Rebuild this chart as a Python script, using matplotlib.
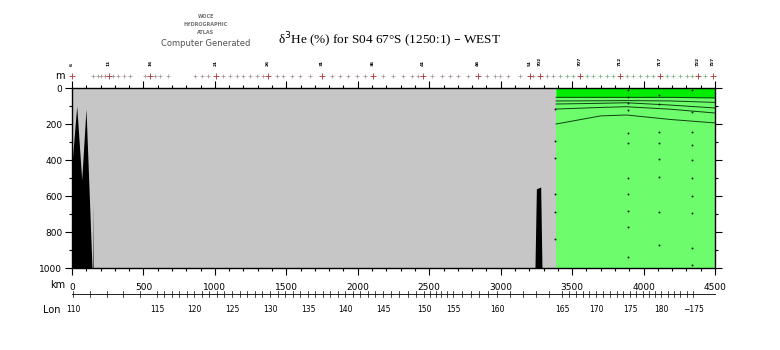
import numpy as np
import matplotlib
matplotlib.use('Agg')
import matplotlib.pyplot as plt
import matplotlib.transforms as mtransforms

# --- Data ---
# bathymetry (km, depth m), filled black below
bathy_km = [0, 33, 68, 98, 140, 146, 148, 150, 3230, 3240, 3250, 3280, 3289, 3300]
bathy_depth = [420, 100, 510, 115, 1000, 1000, 630, 1000, 1000, 1000, 560, 550, 1000, 1000]

# extent of data (green) and no-data (grey) region
data_start_km = 3388
section_end_km = 4500

# top dark-green band and contour lines (km, depth m)
contour_km = [3388, 3700, 3880, 4190, 4500]
band_depth = [52, 52, 52, 52, 55]
contour_lines = [
    [72, 71, 70, 72, 80],
    [89, 85, 82, 95, 111],
    [117, 108, 104, 118, 139],
    [200, 155, 150, 175, 194],
]

# sample dots (km, depth)
dot_km = ([3381] * 6 + [3892] * 11 + [4109] * 8 + [4340] * 10)
dot_depth = ([117, 294, 389, 589, 687, 839] +
             [11, 48, 81, 122, 250, 304, 500, 589, 683, 770, 937] +
             [39, 89, 243, 306, 396, 493, 687, 872] +
             [11, 131, 243, 317, 400, 498, 600, 693, 889, 983])

# station positions (km); major stations carry labels
station_km = [0, 147, 182, 203, 231, 257, 287, 322, 364, 406, 511, 546, 581, 616, 672,
              861, 908, 952, 1008, 1057, 1106, 1153, 1197, 1246, 1293, 1337, 1372,
              1433, 1477, 1538, 1596, 1666, 1748, 1818, 1876, 1932, 1993, 2051, 2107,
              2177, 2247, 2317, 2378, 2422, 2457, 2518, 2588, 2646, 2702, 2772, 2842,
              2903, 2961, 2996, 3052, 3136, 3206, 3227, 3276, 3323, 3367, 3416, 3463,
              3507, 3556, 3603, 3647, 3696, 3743, 3787, 3836, 3883, 3927, 3976, 4023,
              4067, 4116, 4163, 4207, 4256, 4303, 4338, 4382, 4431, 4487]
major_km = [0, 257, 546, 1008, 1372, 1748, 2107, 2457, 2842, 3206, 3276,
            3556, 3836, 4116, 4382, 4487]
major_labels = ['6', '11', '16', '21', '26', '31', '36', '41', '46', '51', '702',
                '707', '712', '717', '722', '727']

# longitude labels and their km positions
lon_km = [7, 595, 854, 1120, 1386, 1652, 1911, 2177, 2464, 2667, 2975, 3430,
          3668, 3906, 4123, 4347]
lon_labels = ['110', '115', '120', '125', '130', '135', '140', '145', '150',
              '155', '160', '165', '170', '175', '180', '\u2212175']
lon_deg = [110, 115, 120, 125, 130, 135, 140, 145, 150, 155, 160, 165, 170, 175, 180, 185]

GREY = '#c6c6c6'
LIGHT_GREEN = '#6cfc6c'
DARK_GREEN = '#00ec00'

plt.rcParams['font.family'] = ['DejaVu Sans']

fig = plt.figure(figsize=(7.8, 3.5), dpi=100)
ax = fig.add_axes([72 / 780, 82 / 350, 643 / 780, 180 / 350])
ax.set_xlim(0, 4500)
ax.set_ylim(1000, 0)

# background fields
ax.axvspan(0, data_start_km, color=GREY, lw=0, zorder=0)
ax.axvspan(data_start_km, section_end_km, color=LIGHT_GREEN, lw=0, zorder=0)
ax.fill_between(contour_km, 0, band_depth, color=DARK_GREEN, lw=0, zorder=1)
ax.plot(contour_km, band_depth, color='#104010', lw=0.7, zorder=2)
for line in contour_lines:
    ax.plot(contour_km, line, color='#104010', lw=0.7, zorder=2)

ax.scatter(dot_km, dot_depth, s=2.0, color='#102010', zorder=3, lw=0)

# bathymetry
ax.fill_between(bathy_km, bathy_depth, 1000, color='black', lw=0, zorder=4)

# axes styling
for sp in ax.spines.values():
    sp.set_linewidth(1.0)
ax.set_xticks(np.arange(0, 4501, 500))
ax.set_xticks(np.arange(0, 4501, 100), minor=True)
ax.set_yticks(np.arange(0, 1001, 200))
ax.set_yticks(np.arange(0, 1001, 100), minor=True)
ax.tick_params(which='both', direction='out', top=True, right=True,
               labelsize=6.5, width=0.8)
ax.tick_params(which='major', length=5, pad=6)
ax.tick_params(which='minor', length=2.5)
ax.tick_params(axis='y', pad=2)

trans = mtransforms.blended_transform_factory(ax.transData, ax.transAxes)

# station markers row
for km in station_km:
    if km in major_km:
        continue
    col = '#7ab07a' if km > data_start_km else '#a09090'
    ax.plot(km, 1.067, marker='+', ms=3, mew=0.5, color=col, transform=trans,
            clip_on=False)
ax.plot(major_km, [1.067] * len(major_km), ls='none', marker='+', ms=5, mew=0.6,
        color='#b03030', transform=trans, clip_on=False)
for km, lab in zip(major_km, major_labels):
    ax.text(km, 1.12, lab, rotation=90, fontsize=3.2, ha='center', va='bottom',
            transform=trans, fontweight='bold')

fig.text(60 / 780, 1 - 76 / 350, 'm', fontsize=7, ha='center', va='center')
fig.text(58 / 780, 1 - 285 / 350, 'km', fontsize=7, ha='center', va='center')

# longitude axis
lon_y = (268 - 294) / 180
ax.plot([0, 4500], [lon_y, lon_y], color='black', lw=0.6, transform=trans, clip_on=False)
deg_ticks = np.arange(110, 186)
deg_km = np.interp(deg_ticks, lon_deg, lon_km)
for k in deg_km:
    ax.plot([k, k], [lon_y - 0.018, lon_y + 0.018], color='black', lw=0.5,
            transform=trans, clip_on=False)
for k, lab in zip(lon_km, lon_labels):
    ax.text(k, (268 - 310) / 180, lab, fontsize=5.5, ha='center', va='center',
            transform=trans)
fig.text(52 / 780, 1 - 310 / 350, 'Lon', fontsize=7, ha='center', va='center')

# titles
fig.text(390 / 780, 1 - 40 / 350, '\u03b4$^3$He (%) for S04 67\u00b0S (1250:1) \u2013 WEST',
         fontsize=9.5, ha='center', va='center', family='Liberation Serif')
fig.text(206 / 780, 1 - 17 / 350, 'WOCE', fontsize=3.5, ha='center', va='center',
         color='#707070', fontweight='bold')
fig.text(206 / 780, 1 - 25 / 350, 'HYDROGRAPHIC', fontsize=3.5, ha='center', va='center',
         color='#707070', fontweight='bold')
fig.text(206 / 780, 1 - 33 / 350, 'ATLAS', fontsize=3.5, ha='center', va='center',
         color='#707070', fontweight='bold')
fig.text(206 / 780, 1 - 43 / 350, 'Computer Generated', fontsize=6, ha='center',
         va='center', color='#505050')

fig.savefig('out.png', dpi=100)
